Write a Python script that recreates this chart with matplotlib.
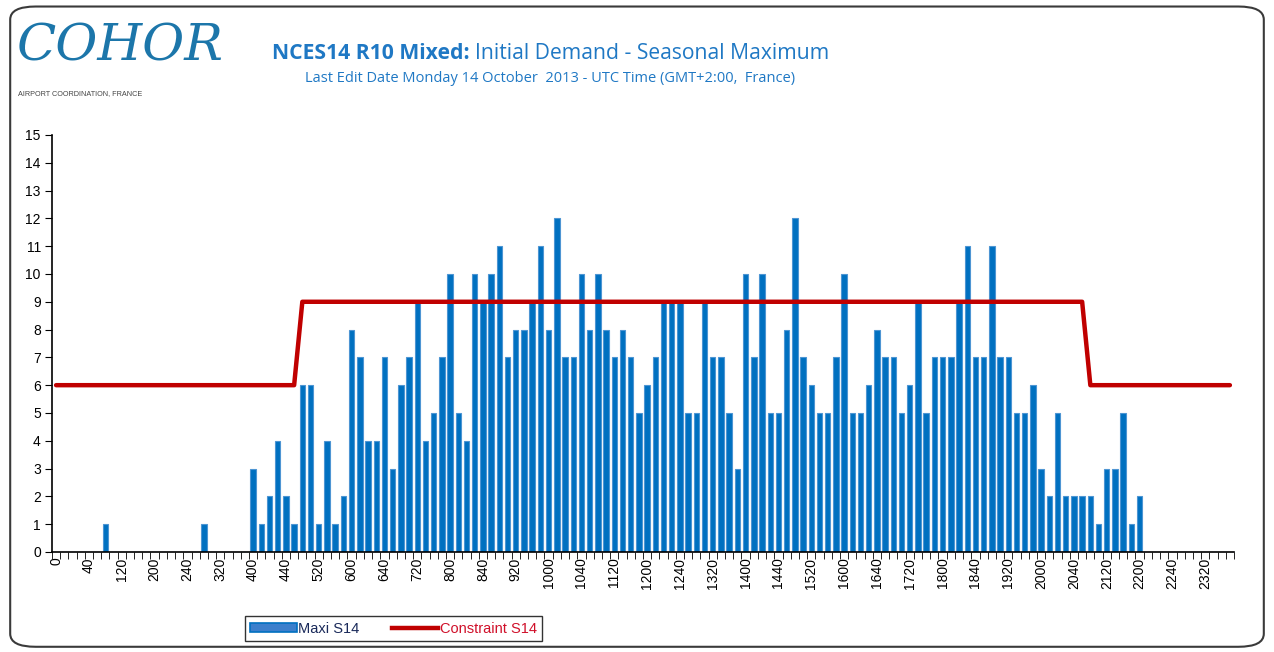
import matplotlib
matplotlib.use("Agg")
import matplotlib.pyplot as plt
from matplotlib.patches import FancyBboxPatch, Patch
from matplotlib.lines import Line2D
import numpy as np

# 10-minute slots, HHMM labels
slot_times = [h * 100 + m for h in range(24) for m in range(0, 60, 10)]

maxi_s14 = [
    0, 0, 0, 0, 0, 0, 1, 0, 0, 0, 0, 0,
    0, 0, 0, 0, 0, 0, 1, 0, 0, 0, 0, 0,
    3, 1, 2, 4, 2, 1, 6, 6, 1, 4, 1, 2,
    8, 7, 4, 4, 7, 3, 6, 7, 9, 4, 5, 7,
    10, 5, 4, 10, 9, 10, 11, 7, 8, 8, 9, 11,
    8, 12, 7, 7, 10, 8, 10, 8, 7, 8, 7, 5,
    6, 7, 9, 9, 9, 5, 5, 9, 7, 7, 5, 3,
    10, 7, 10, 5, 5, 8, 12, 7, 6, 5, 5, 7,
    10, 5, 5, 6, 8, 7, 7, 5, 6, 9, 5, 7,
    7, 7, 9, 11, 7, 7, 11, 7, 7, 5, 5, 6,
    3, 2, 5, 2, 2, 2, 2, 1, 3, 3, 5, 1,
    2, 0, 0, 0, 0, 0, 0, 0, 0, 0, 0, 0,
]
constraint_s14 = [6] * 30 + [9] * 96 + [6] * 18

BLUE = "#0070c0"
RED = "#c00000"
TITLE_BLUE = "#1f78c4"

plt.rcParams["font.family"] = ["Liberation Sans", "DejaVu Sans"]

fig = plt.figure(figsize=(12.74, 6.52), dpi=100)

# rounded frame around the whole chart
frame = FancyBboxPatch((0.008, 0.008), 0.984, 0.982,
                       boxstyle="round,pad=0,rounding_size=0.02",
                       transform=fig.transFigure, fill=False,
                       edgecolor="#3a3a3a", linewidth=1.5)
fig.patches.append(frame)

# logo
fig.text(0.013, 0.928, "COHOR", fontsize=37, fontstyle="italic",
         color="#1c76aa", family=["DejaVu Serif"], va="center", ha="left")
fig.text(0.014, 0.857, "AIRPORT COORDINATION, FRANCE", fontsize=5.2, color="#444444",
         va="center", ha="left")

# title
t1 = fig.text(0.2135, 0.918, "NCES14 R10 Mixed:", fontsize=15.2, fontweight="bold",
              color=TITLE_BLUE, family=["Open Sans", "DejaVu Sans"], va="center")
fig.canvas.draw()
bb = t1.get_window_extent()
fig.text((bb.x1 + 5) / fig.bbox.width, 0.918, "Initial Demand - Seasonal Maximum",
         fontsize=15.2, color=TITLE_BLUE, family=["Open Sans", "DejaVu Sans"], va="center")
fig.text(0.432, 0.879, "Last Edit Date Monday 14 October  2013 - UTC Time (GMT+2:00,  France)",
         fontsize=10.5, color=TITLE_BLUE, family=["Open Sans", "DejaVu Sans"],
         va="center", ha="center")

ax = fig.add_axes([0.0408, 0.1534, 0.9278, 0.6396])
x = np.arange(len(slot_times))
ax.bar(x, maxi_s14, width=0.66, color=BLUE, edgecolor="#4d95d3", linewidth=0.8, zorder=2)
ax.plot(x, constraint_s14, color=RED, linewidth=3.2, solid_capstyle="round",
        solid_joinstyle="round", zorder=3)

ax.set_xlim(-0.5, len(slot_times) - 0.5)
ax.set_ylim(0, 15)
ax.set_yticks(range(16))
ax.tick_params(axis="y", direction="out", length=5, labelsize=10, pad=3)

label_idx = x[::4]
ax.set_xticks(label_idx)
ax.set_xticklabels([str(slot_times[i]) for i in label_idx], rotation=90, fontsize=10)
ax.tick_params(axis="x", which="major", length=0, pad=4)
ax.set_xticks(np.arange(-0.5, len(slot_times), 1), minor=True)
ax.tick_params(axis="x", which="minor", direction="out", length=5)

for side in ["top", "right"]:
    ax.spines[side].set_visible(False)
for side in ["left", "bottom"]:
    ax.spines[side].set_linewidth(1.2)

handles = [Patch(facecolor="#3c7fcc", edgecolor=BLUE, linewidth=1.2),
           Line2D([0], [0], color=RED, linewidth=3.2)]
leg = fig.legend(handles, ["Maxi S14", "Constraint S14"], loc="center",
                 bbox_to_anchor=(0.309, 0.036), ncol=2, fancybox=False,
                 edgecolor="#333333", framealpha=1, fontsize=10.5,
                 handlelength=3.2, handleheight=0.6, handletextpad=0.1,
                 columnspacing=2.2, borderpad=0.35)
leg.get_frame().set_linewidth(1.0)
leg.get_texts()[0].set_color("#1a2a5a")
leg.get_texts()[1].set_color("#d0102a")

fig.savefig("out.png", dpi=100)
